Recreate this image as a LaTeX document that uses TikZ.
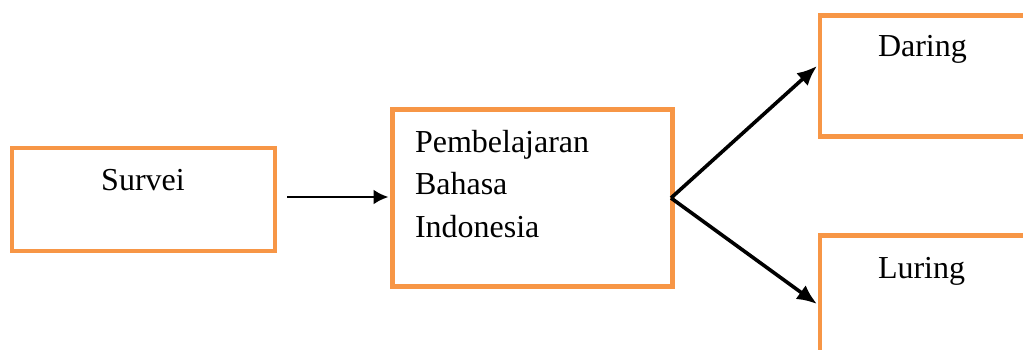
\documentclass[tikz,border=0pt]{standalone}
\usepackage{fontspec}
\setmainfont{Liberation Serif}
\usetikzlibrary{arrows.meta}
\definecolor{boxorange}{HTML}{F79646}
\begin{document}
\begin{tikzpicture}[x=1pt,y=-1pt,
  box/.style={draw=boxorange, line width=4.5pt, inner sep=0pt, outer sep=0pt, rectangle},
  txt/.style={inner sep=0pt, outer sep=0pt, font=\fontsize{32}{42.5}\selectfont},
  arr/.style={-{Latex[length=15pt,width=15pt]}, line width=2.6pt},
  darr/.style={-{Latex[length=20pt,width=17pt]}, line width=3.6pt}]
\useasboundingbox (0,0) rectangle (1023,349);
\clip (0,0) rectangle (1023,349);
\node[box, minimum width=263pt, minimum height=103pt] (sv) at (143.5,199.5) {};
\node[box, minimum width=280pt, minimum height=177pt] (pb) at (532.5,198) {};
\node[box, minimum width=280pt, minimum height=121pt] (dar) at (960,76) {};
\node[box, minimum width=280pt, minimum height=137pt] (lur) at (960,304) {};
\node[txt, anchor=base] (svt) at (143,190) {Survei};
\node[txt, anchor=north west, align=left] (pbt) at (415,130) {Pembelajaran\\Bahasa\\Indonesia};
\node[txt, anchor=base west] (dat) at (878,56) {Daring};
\node[txt, anchor=base west] (lut) at (878,278) {Luring};
\draw[arr] ([xshift=12pt,yshift=2.5pt]sv.east) -- ([xshift=-4pt,yshift=1pt]pb.west);
\draw[darr] ([xshift=-1.5pt]pb.east) -- ([xshift=-3pt,yshift=10pt]dar.west);
\draw[darr] ([xshift=-1.5pt]pb.east) -- ([xshift=-3pt]lur.west);
\end{tikzpicture}
\end{document}
